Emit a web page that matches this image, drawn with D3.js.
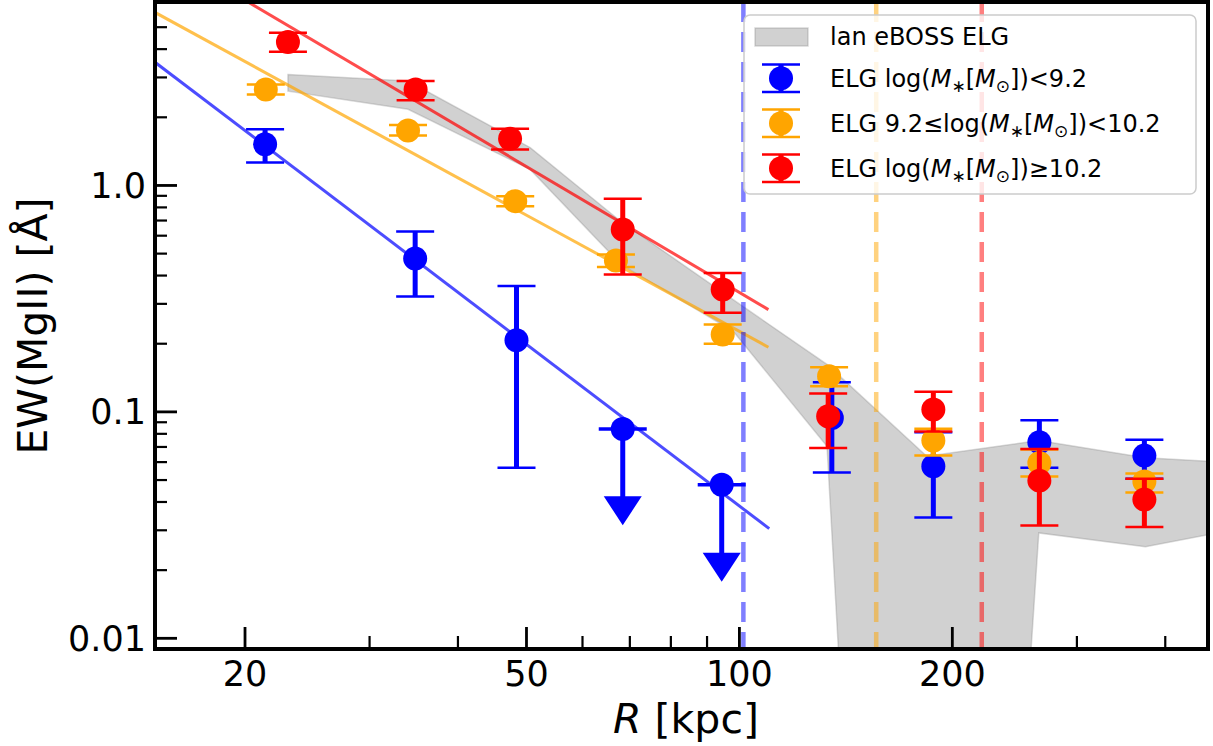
<!DOCTYPE html>
<html><head><meta charset="utf-8">
<script src="https://cdn.jsdelivr.net/npm/d3@7"></script>
<style>body{margin:0;background:#fff} text{font-family:"DejaVu Sans",sans-serif;fill:#000}</style>
</head><body><svg id="c" width="1213" height="746"></svg>
<script>
// ---------- data ----------
const xDomain = [14.92, 459.7];
const yDomain = [0.00897, 6.46];
const xMajorTicks = [20, 50, 100, 200];
const xTickLabels = ["20", "50", "100", "200"];
const yMajorTicks = [0.01, 0.1, 1];
const yTickLabels = ["0.01", "0.1", "1.0"];

// Lan eBOSS ELG band
const bandR  = [23.0, 34.0, 50.6, 68, 98, 133, 184, 265, 375, 520];
const bandUp = [3.09, 2.89, 1.47, 0.693, 0.313, 0.162, 0.0637, 0.0747, 0.0628, 0.0591];
const bandLo = [2.61, 2.17, 1.177, 0.448, 0.227, 0.0705, 1e-9, 0.0292, 0.0254, 0.0308];

// ELG log(M*) < 9.2
const lowR   = [21.35, 34.8, 48.4, 68.4, 94.4, 135.1, 188, 265.5, 373.7];
const lowEW  = [1.52, 0.476, 0.207, 0.0841, 0.0477, 0.094, 0.0575, 0.0734, 0.0641];
const lowUp  = [1.77, 0.626, 0.36, 0.0841, 0.0477, 0.135, 0.0813, 0.0918, 0.0754];
const lowLo  = [1.264, 0.323, 0.0566, 0.0366, 0.0206, 0.054, 0.0342, 0.0566, 0.0507];
const lowLim = [false, false, false, true, true, false, false, false, false];

// ELG 9.2 <= log(M*) < 10.2
const midR   = [21.4, 34.0, 48.2, 66.9, 94.7, 133.9, 188, 265.5, 373.7];
const midEW  = [2.656, 1.75, 0.852, 0.466, 0.2196, 0.1437, 0.0747, 0.0595, 0.0493];
const midUp  = [2.79, 1.85, 0.897, 0.495, 0.243, 0.1576, 0.0843, 0.0682, 0.0535];
const midLo  = [2.52, 1.66, 0.81, 0.436, 0.2, 0.1297, 0.0641, 0.0518, 0.0441];

// ELG log(M*) >= 10.2
const highR  = [23.0, 34.85, 47.4, 68.4, 94.7, 133.5, 188, 265.5, 373.7];
const highEW = [4.30, 2.656, 1.608, 0.639, 0.347, 0.0956, 0.1024, 0.0497, 0.041];
const highUp = [4.73, 2.89, 1.78, 0.873, 0.411, 0.1205, 0.1226, 0.0686, 0.0507];
const highLo = [3.90, 2.38, 1.442, 0.404, 0.274, 0.0693, 0.082, 0.0315, 0.031];

// power-law fits (end points)
const fitLowR  = [14.92, 110.2], fitLowEW  = [3.50, 0.0305];
const fitMidR  = [14.92, 109.9], fitMidEW  = [5.81, 0.193];
const fitHighR = [14.92, 109.9], fitHighEW = [11.3, 0.283];

// virial radii (dashed)
const virR = [101.3, 156.1, 220.1];

const seriesColors = ["#0000ff", "#ffa500", "#ff0000"];
const legendPre  = ["ELG ", "ELG 9.2\u2264", "ELG "];
const legendPost = ["<9.2", "<10.2", "\u226510.2"];
const bandLabel = "lan eBOSS ELG";

// ---------- drawing ----------
const svg = d3.select('#c');
const L = 155, R = 1208, T = 2, B = 649;
const x = d3.scaleLog().domain(xDomain).range([L, R]);
const y = d3.scaleLog().domain(yDomain).range([B, T]);

svg.append('defs').append('clipPath').attr('id', 'clip')
  .append('rect').attr('x', L).attr('y', T).attr('width', R - L).attr('height', B - T);
const g = svg.append('g').attr('clip-path', 'url(#clip)');

// band
const area = d3.area().x(d => x(d[0])).y0(d => y(d[2])).y1(d => y(d[1]));
g.append('path').datum(d3.zip(bandR, bandUp, bandLo)).attr('d', area)
  .attr('fill', '#808080').attr('fill-opacity', 0.36)
  .attr('stroke', '#808080').attr('stroke-opacity', 0.3).attr('stroke-width', 1.5);

// fit lines
const line = d3.line().x(d => x(d[0])).y(d => y(d[1]));
[[fitLowR, fitLowEW], [fitMidR, fitMidEW], [fitHighR, fitHighEW]].forEach((f, i) => {
  g.append('path').attr('d', line(d3.zip(f[0], f[1])))
    .attr('fill', 'none').attr('stroke', seriesColors[i]).attr('stroke-opacity', 0.7)
    .attr('stroke-width', 3);
});

// dashed virial lines
virR.forEach((v, i) => {
  g.append('line').attr('x1', x(v)).attr('x2', x(v)).attr('y1', T).attr('y2', B)
    .attr('stroke', seriesColors[i]).attr('stroke-opacity', 0.5)
    .attr('stroke-width', 4.5).attr('stroke-dasharray', '20,10');
});

// error bars and markers
const series = [
  {R: lowR, EW: lowEW, up: lowUp, lo: lowLo, lim: lowLim},
  {R: midR, EW: midEW, up: midUp, lo: midLo, lim: null},
  {R: highR, EW: highEW, up: highUp, lo: highLo, lim: null}
];
series.forEach((s, si) => {
  const c = seriesColors[si];
  const sg = g.append('g');
  s.R.forEach((r, k) => {
    const px = x(r), py = y(s.EW[k]);
    const isLim = s.lim && s.lim[k];
    if (isLim) {
      const pe = y(s.lo[k]);
      sg.append('line').attr('x1', px).attr('x2', px).attr('y1', py).attr('y2', pe)
        .attr('stroke', c).attr('stroke-width', 5);
      sg.append('path').attr('d', `M${px-19},${pe-14.5}L${px+19},${pe-14.5}L${px},${pe+14.5}Z`).attr('fill', c);
      sg.append('line').attr('x1', px - 24).attr('x2', px + 24).attr('y1', py).attr('y2', py)
        .attr('stroke', c).attr('stroke-width', 3.5);
    } else {
      const pu = y(s.up[k]), pl = y(s.lo[k]);
      sg.append('line').attr('x1', px).attr('x2', px).attr('y1', pu).attr('y2', pl)
        .attr('stroke', c).attr('stroke-width', 5);
      [pu, pl].forEach(cy => sg.append('line').attr('x1', px - 19).attr('x2', px + 19)
        .attr('y1', cy).attr('y2', cy).attr('stroke', c).attr('stroke-width', 2.5));
    }
    sg.append('circle').attr('cx', px).attr('cy', py).attr('r', 12).attr('fill', c);
  });
});

// axes spines
svg.append('rect').attr('x', L).attr('y', T).attr('width', R - L).attr('height', B - T)
  .attr('fill', 'none').attr('stroke', '#000').attr('stroke-width', 4);

// x ticks
const xAll = x.ticks(20).filter(v => x(v) > L + 3 && x(v) < R - 3);
xAll.forEach(v => {
  const maj = xMajorTicks.some(m => Math.abs(m - v) < 1e-9);
  svg.append('line').attr('x1', x(v)).attr('x2', x(v)).attr('y1', B).attr('y2', B - (maj ? 22 : 13))
    .attr('stroke', '#000').attr('stroke-width', maj ? 2.8 : 2.2);
});
xMajorTicks.forEach((v, i) => {
  svg.append('text').attr('x', x(v)).attr('y', 686).attr('text-anchor', 'middle')
    .attr('font-size', 35).text(xTickLabels[i]);
});

// y ticks
const yAll = y.ticks(30).filter(v => y(v) > T + 10 && y(v) < B - 3);
yAll.forEach(v => {
  const maj = yMajorTicks.some(m => Math.abs(Math.log10(m) - Math.log10(v)) < 1e-6);
  svg.append('line').attr('x1', L).attr('x2', L + (maj ? 22 : 12)).attr('y1', y(v)).attr('y2', y(v))
    .attr('stroke', '#000').attr('stroke-width', maj ? 2.8 : 2.2);
});
yMajorTicks.forEach((v, i) => {
  svg.append('text').attr('x', 146).attr('y', y(v) + 12.5).attr('text-anchor', 'end')
    .attr('font-size', 35).text(yTickLabels[i]);
});

// axis labels
const xl = svg.append('text').attr('x', 686).attr('y', 733).attr('text-anchor', 'middle').attr('font-size', 41);
xl.append('tspan').attr('font-style', 'italic').text('R');
xl.append('tspan').text(' [kpc]');
svg.append('text').attr('transform', 'translate(47,326) rotate(-90)').attr('text-anchor', 'middle')
  .attr('font-size', 41).text('EW(MgII) [\u00c5]');

// legend
const lg = svg.append('g');
lg.append('rect').attr('x', 744).attr('y', 15).attr('width', 452).attr('height', 179).attr('rx', 6)
  .attr('fill', '#fff').attr('fill-opacity', 0.8).attr('stroke', '#cccccc').attr('stroke-width', 1.5);
lg.append('rect').attr('x', 755).attr('y', 28).attr('width', 53).attr('height', 18)
  .attr('fill', '#808080').attr('fill-opacity', 0.36).attr('stroke', '#808080').attr('stroke-opacity', 0.3).attr('stroke-width', 1.5);
lg.append('text').attr('x', 830).attr('y', 45).attr('font-size', 24).text(bandLabel);
const rowBase = [87.3, 132.3, 177.3];
seriesColors.forEach((c, i) => {
  const cy = rowBase[i] - 9;
  lg.append('line').attr('x1', 781).attr('x2', 781).attr('y1', cy - 13.7).attr('y2', cy + 13.7).attr('stroke', c).attr('stroke-width', 5);
  [cy - 13.7, cy + 13.7].forEach(yy => lg.append('line').attr('x1', 762).attr('x2', 800).attr('y1', yy).attr('y2', yy).attr('stroke', c).attr('stroke-width', 2.5));
  lg.append('circle').attr('cx', 781).attr('cy', cy).attr('r', 12).attr('fill', c);
  const t = lg.append('text').attr('x', 830).attr('y', rowBase[i]).attr('font-size', 24);
  t.append('tspan').text(legendPre[i] + 'log(');
  t.append('tspan').attr('font-style', 'italic').text('M');
  t.append('tspan').attr('font-size', 17).attr('dy', 5).text('\u2217');
  t.append('tspan').attr('dy', -5).text('[');
  t.append('tspan').attr('font-style', 'italic').text('M');
  t.append('tspan').attr('font-size', 17).attr('dy', 5).text('\u2299');
  t.append('tspan').attr('dy', -5).text('])' + legendPost[i]);
});
</script></body></html>
